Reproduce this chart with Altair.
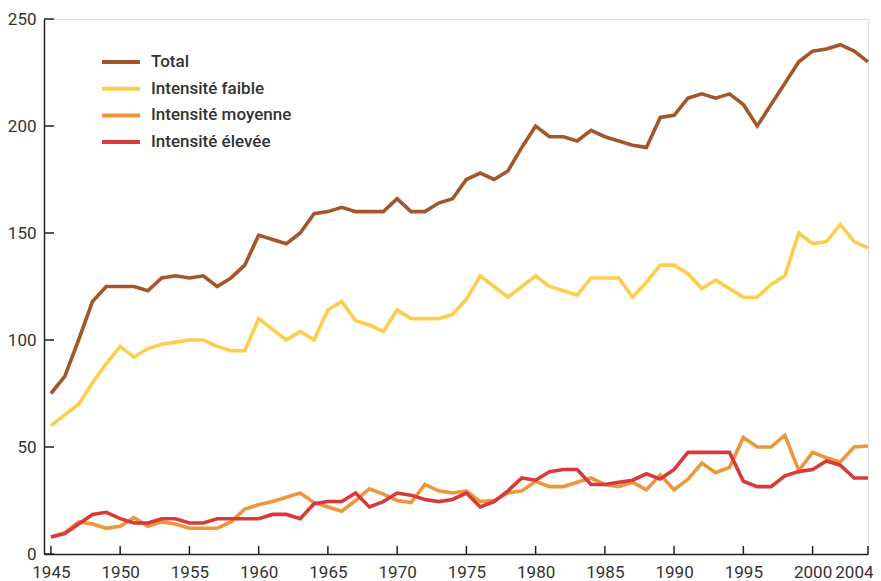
import altair as alt
import pandas as pd

years = list(range(1945, 2005))

total = [75, 83, 100, 118, 125, 125, 125, 123, 129, 130, 129, 130, 125, 129, 135,
         149, 147, 145, 150, 159, 160, 162, 160, 160, 160, 166, 160, 160, 164, 166,
         175, 178, 175, 179, 190, 200, 195, 195, 193, 198, 195, 193, 191, 190, 204,
         205, 213, 215, 213, 215, 210, 200, 210, 220, 230, 235, 236, 238, 235, 230]

faible = [60, 65, 70, 80, 89, 97, 92, 96, 98, 99, 100, 100, 97, 95, 95,
          110, 105, 100, 104, 100, 114, 118, 109, 107, 104, 114, 110, 110, 110, 112,
          119, 130, 125, 120, 125, 130, 125, 123, 121, 129, 129, 129, 120, 127, 135,
          135, 131, 124, 128, 124, 120, 120, 126, 130, 150, 145, 146, 154, 146, 143]

moyenne = [8, 10, 15, 14, 12, 13, 17, 13, 15, 14, 12, 12, 12, 15, 21,
           23, 24.5, 26.5, 28.5, 24, 22, 20, 25, 30.5, 28, 25, 24, 32.5, 29.5, 28.5,
           29.5, 24.5, 25, 28.5, 29.5, 34, 31.5, 31.5, 33.5, 35.5, 32.5, 31.5, 33.5, 30, 37,
           30, 35, 42.5, 38, 40.5, 54.5, 50, 50, 55.5, 39, 47.5, 45, 43, 50, 50.5]

elevee = [8, 9.5, 14, 18.5, 19.5, 16.5, 14.5, 14.5, 16.5, 16.5, 14.5, 14.5, 16.5, 16.5, 16.5,
          16.5, 18.5, 18.5, 16.5, 23.5, 24.5, 24.5, 28.5, 22, 24.5, 28.5, 27.5, 25.5, 24.5, 25.5,
          28.5, 22, 24.5, 29.5, 35.5, 34.5, 38.5, 39.5, 39.5, 32.5, 32.5, 33.5, 34.5, 37.5, 35,
          39.5, 47.5, 47.5, 47.5, 47.5, 34, 31.5, 31.5, 36.5, 38.5, 39.5, 43.5, 41.5, 35.5, 35.5]

series_names = ["Total", "Intensité faible", "Intensité moyenne", "Intensité élevée"]
series_colors = ["#A3562A", "#FDCD4C", "#EF963A", "#D83A3C"]

x_ticks = [1945, 1950, 1955, 1960, 1965, 1970, 1975, 1980, 1985, 1990, 1995, 2000, 2004]
y_ticks = [0, 50, 100, 150, 200, 250]

rows = []
for name, vals in zip(series_names, [total, faible, moyenne, elevee]):
    for yr, v in zip(years, vals):
        rows.append({"year": yr, "value": v, "series": name,
                     "order": series_names.index(name)})
df = pd.DataFrame(rows)

FONT = "Roboto"
TXT = "#333333"
W, H = 824, 535

xscale = alt.Scale(domain=[1944.5, 2004], nice=False, zero=False)
yscale = alt.Scale(domain=[0, 250], nice=False)

lines = alt.Chart(df).mark_line(strokeWidth=3.6, strokeJoin="miter").encode(
    x=alt.X("year:Q", scale=xscale,
            axis=alt.Axis(values=x_ticks, format="d", title=None, ticks=False,
                          labelPadding=10, labelFontSize=17, labelColor=TXT,
                          labelFont=FONT, domainColor="#222222", domainWidth=1.5,
                          grid=False, labelFlush=3, labelFlushOffset=5)),
    y=alt.Y("value:Q", scale=yscale,
            axis=alt.Axis(values=y_ticks, title=None, ticks=False,
                          labelPadding=8, labelFontSize=17, labelColor=TXT,
                          labelFont=FONT, domainColor="#222222", domainWidth=1.5,
                          grid=False)),
    color=alt.Color("series:N",
                    scale=alt.Scale(domain=series_names, range=series_colors),
                    sort=series_names,
                    legend=alt.Legend(title=None, orient="none", legendX=56, legendY=33,
                                      symbolType="stroke", symbolSize=1444,
                                      symbolStrokeWidth=4, clipHeight=20,
                                      rowPadding=6.7, labelOffset=9,
                                      labelFontSize=17, labelFontWeight=500,
                                      labelColor=TXT, labelFont=FONT)),
    order=alt.Order("order:Q"),
)

ytick_df = pd.DataFrame({"v": y_ticks})
yticks = alt.Chart(ytick_df).mark_rule(color="#222222", strokeWidth=1.5).encode(
    y=alt.Y("v:Q", scale=yscale),
    x=alt.value(0), x2=alt.value(10),
)

xtick_df = pd.DataFrame({"v": x_ticks})
xticks = alt.Chart(xtick_df).mark_rule(color="#222222", strokeWidth=1.5).encode(
    x=alt.X("v:Q", scale=xscale),
    y=alt.value(H - 8), y2=alt.value(H),
)

chart = alt.layer(lines, yticks, xticks).properties(
    width=W, height=H,
    autosize=alt.AutoSizeParams(type="none"),
    padding={"left": 36, "top": 11, "right": 5, "bottom": 27},
).configure_view(stroke=None).configure(font=FONT)

chart.save("out.html", embed_options={"renderer": "svg", "actions": False})
